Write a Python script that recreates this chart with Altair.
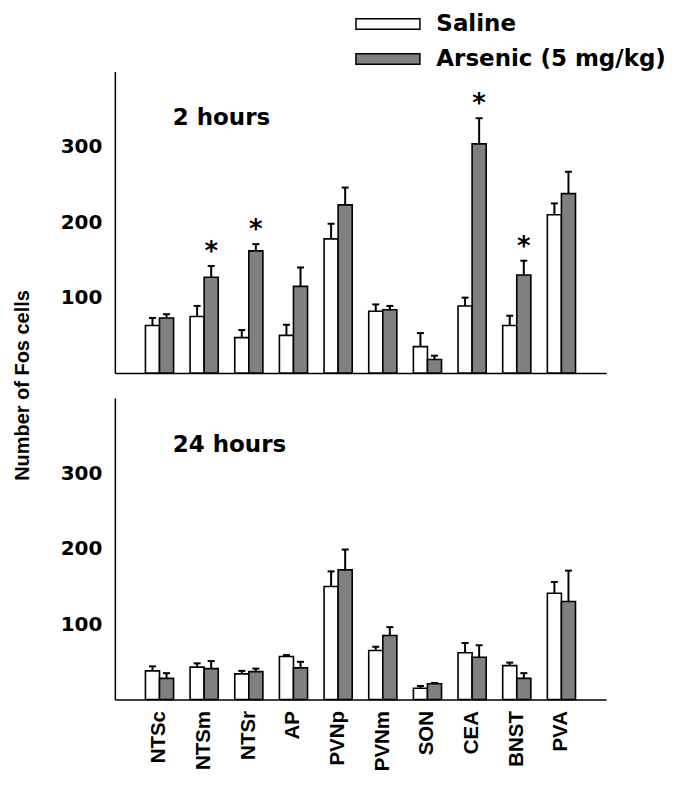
import altair as alt
import pandas as pd

regions = ["NTSc", "NTSm", "NTSr", "AP", "PVNp", "PVNm", "SON", "CEA", "BNST", "PVA"]
groups = ["Saline", "Arsenic (5 mg/kg)"]
y_ticks = [100, 200, 300]

# 2 hours
saline_2h = [63, 75, 47, 50, 178, 82, 35, 89, 63, 210]
saline_2h_sem = [10, 14, 10, 14, 20, 9, 18, 11, 13, 15]
arsenic_2h = [73, 127, 162, 115, 223, 84, 18, 304, 130, 238]
arsenic_2h_sem = [5, 15, 9, 25, 23, 5, 5, 34, 19, 29]
sig_2h = ["", "*", "*", "", "", "", "", "*", "*", ""]

# 24 hours
saline_24h = [38, 43, 34, 57, 150, 65, 15, 62, 45, 141]
saline_24h_sem = [6, 5, 4, 2, 20, 5, 3, 13, 4, 15]
arsenic_24h = [28, 41, 37, 42, 172, 85, 21, 56, 28, 130]
arsenic_24h_sem = [7, 10, 4, 8, 27, 11, 1, 16, 7, 41]
sig_24h = ["", "", "", "", "", "", "", "", "", ""]

WIDE = "DejaVu Sans"
NARROW = "Liberation Sans"


def make_df(sal, sal_sem, ars, ars_sem, sig):
    rows = []
    for i, r in enumerate(regions):
        rows.append(dict(region=r, group=groups[0], mean=sal[i], top=sal[i] + sal_sem[i], star=""))
        rows.append(dict(region=r, group=groups[1], mean=ars[i], top=ars[i] + ars_sem[i], star=sig[i]))
    return pd.DataFrame(rows)


def panel(df, label, bottom):
    x_axis = alt.Axis(
        title=None, ticks=False, labels=bottom, labelAngle=-90,
        labelFont=NARROW, labelFontSize=20.5, labelFontWeight="bold", labelColor="black",
        labelPadding=11, domainColor="black", domainWidth=1.5,
    )
    if bottom:
        y_axis = alt.Axis(
            values=y_ticks, ticks=False, grid=False, title=None,
            labelFont=WIDE, labelFontSize=20, labelFontWeight="bold", labelColor="black",
            labelPadding=13, domainColor="black", domainWidth=1.5,
        )
    else:
        y_axis = alt.Axis(
            values=y_ticks, ticks=False, grid=False, title="Number of Fos cells",
            labelFont=WIDE, labelFontSize=20, labelFontWeight="bold", labelColor="black",
            labelPadding=13, domainColor="black", domainWidth=1.5,
            titleFont=NARROW, titleFontSize=20, titleFontWeight="bold", titleColor="black",
            titleX=-92, titleY=314, titleAngle=270, titleAlign="center", titleBaseline="middle",
        )
    if bottom:
        legend = None
    else:
        legend = alt.Legend(
            title=None, orient="none", legendX=262, legendY=-59,
            symbolType="M -4.27 -0.7 L 4.27 -0.7 L 4.27 0.7 L -4.27 0.7 Z", symbolSize=225,
            symbolStrokeColor="black", symbolStrokeWidth=1.5, symbolOpacity=1,
            labelFont=WIDE, labelFontSize=23, labelFontWeight="bold", labelColor="black",
            labelOffset=37, rowPadding=11, labelLimit=400,
        )
    base = alt.Chart(df).encode(
        x=alt.X("region:N", sort=regions, axis=x_axis,
                scale=alt.Scale(paddingInner=0.37, paddingOuter=0.685)),
        xOffset=alt.XOffset("group:N", sort=groups,
                            scale=alt.Scale(domain=groups, paddingInner=0, paddingOuter=0)),
    )
    yscale = alt.Scale(domain=[0, 400], nice=False)
    bars = base.mark_bar(stroke="black", strokeWidth=1.6).encode(
        y=alt.Y("mean:Q", scale=yscale, axis=y_axis),
        color=alt.Color("group:N", sort=groups,
                        scale=alt.Scale(domain=groups, range=["white", "#808080"]),
                        legend=legend),
    )
    whisk = base.mark_rule(color="black", strokeWidth=2).encode(
        y=alt.Y("mean:Q", scale=yscale), y2="top:Q")
    caps = base.mark_tick(color="black", thickness=2, size=7, opacity=1).encode(
        y=alt.Y("top:Q", scale=yscale))
    stars = base.transform_filter("datum.star != ''").mark_text(
        font=WIDE, fontSize=26, fontWeight="bold", color="black",
        baseline="alphabetic", dy=-6,
    ).encode(y=alt.Y("top:Q", scale=yscale), text="star:N")
    lab = alt.Chart(pd.DataFrame({"t": [label]})).mark_text(
        align="left", baseline="middle", font=WIDE, fontSize=23, fontWeight="bold", color="black",
    ).encode(x=alt.value(58), y=alt.value(47), text="t:N")
    return alt.layer(bars, whisk, caps, stars, lab).properties(width=492, height=302)


top = panel(make_df(saline_2h, saline_2h_sem, arsenic_2h, arsenic_2h_sem, sig_2h), "2 hours", False)
bot = panel(make_df(saline_24h, saline_24h_sem, arsenic_24h, arsenic_24h_sem, sig_24h), "24 hours", True)

chart = (
    alt.vconcat(top, bot, spacing=25, bounds="flush")
    .resolve_legend(color="independent")
    .properties(padding={"left": 5, "top": 4, "right": 0, "bottom": 0}, background="white")
    .configure_view(stroke=None)
)

chart.save("out.html", embed_options={"renderer": "svg", "actions": False})
